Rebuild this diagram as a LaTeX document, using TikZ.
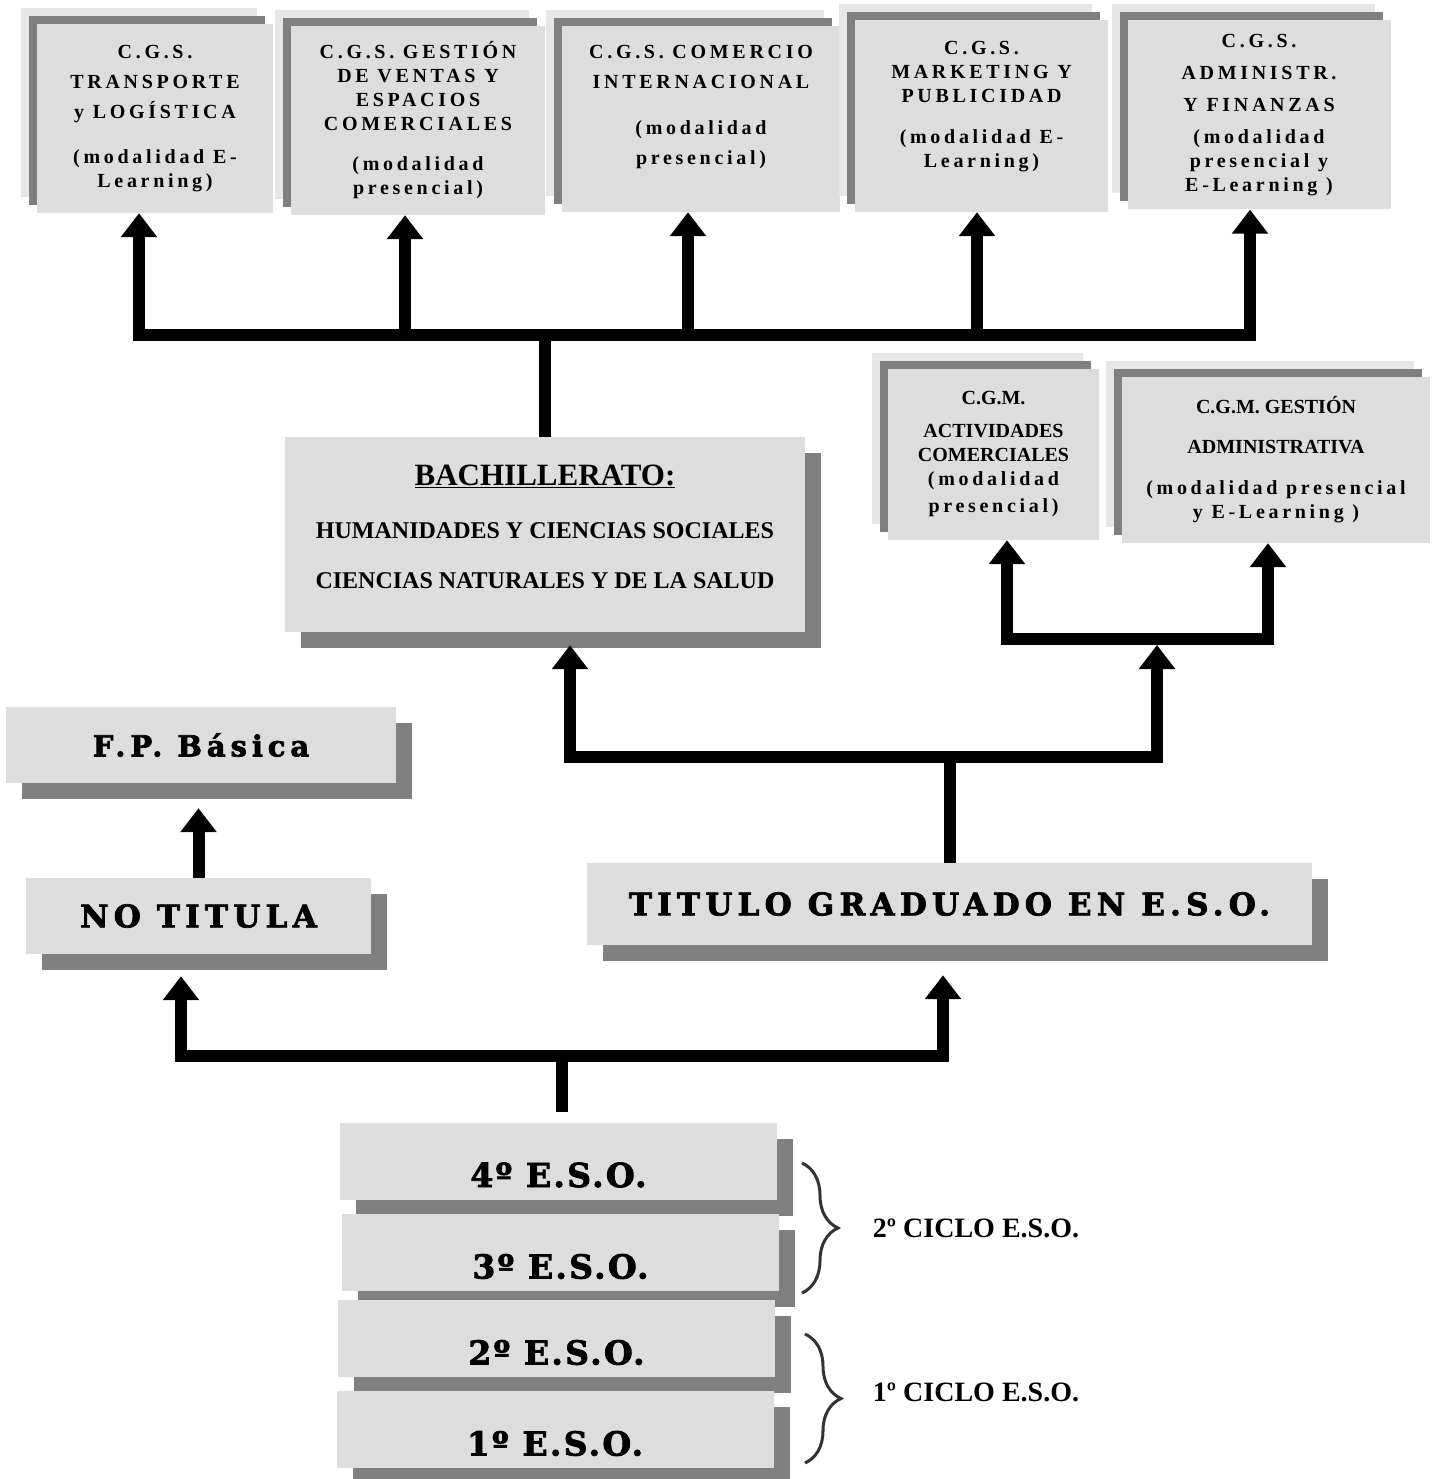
\documentclass[tikz,border=0pt]{standalone}
\usepackage{fontspec}
\setmainfont{Liberation Serif}
\newfontfamily\spaced[LetterSpace=18.5]{Liberation Serif}
\newfontfamily\slab[LetterSpace=17,FakeBold=2.5]{DejaVu Serif}
\newfontfamily\slabeso[LetterSpace=7,FakeBold=2.5]{DejaVu Serif}
\usetikzlibrary{arrows.meta,shadows,calc,decorations.pathreplacing}
\definecolor{boxgray}{HTML}{DDDDDD}
\definecolor{darkshade}{HTML}{808080}
\definecolor{paleshade}{HTML}{E6E6E6}

\begin{document}
\begin{tikzpicture}[x=1pt,y=-1pt,
    conn/.style={line width=12pt},
    arr/.style={line width=12pt,-{Triangle[width=35pt,length=24pt]}},
    stack/.style={fill=boxgray,inner sep=0pt,
        general shadow={fill=paleshade,shadow xshift=-16pt,shadow yshift=16pt},
        general shadow={fill=darkshade,shadow xshift=-8pt,shadow yshift=8pt}},
    dropbox/.style={fill=boxgray,inner sep=0pt,
        general shadow={fill=darkshade,shadow xshift=16pt,shadow yshift=-16pt}},
    cgs/.style={stack,align=center,font=\spaced\bfseries\fontsize{20}{24}\selectfont},
    cgm/.style={stack,align=center,font=\bfseries\fontsize{20}{24}\selectfont},
    big/.style={dropbox,font=\slab\bfseries\fontsize{31}{36}\selectfont},
    eso/.style={dropbox,minimum width=437,minimum height=77,text height=52pt,text depth=0pt,
        font=\slabeso\bfseries\fontsize{33}{38}\selectfont},
    brc/.style={decorate,decoration={brace,amplitude=36pt},line width=3pt,draw=black!80},
    ciclo/.style={font=\bfseries\fontsize{28}{32}\selectfont}]
    \useasboundingbox (0,0) rectangle (1438,1479);

    % ciclos superiores
    \node[cgs,minimum width=236,minimum height=189] (t1) at (155,118.5)
        {C.G.S.\\[6pt]TRANSPORTE\\[6pt]y LOGÍSTICA\\[21pt](modalidad E-\\Learning)};
    \node[cgs,minimum width=254,minimum height=189] (t2) at (418,120.5)
        {C.G.S. GESTIÓN\\DE VENTAS Y\\ESPACIOS\\COMERCIALES\\[16pt](modalidad\\presencial)};
    \node[cgs,minimum width=278,minimum height=186,text depth=28pt] (t3) at (701,119)
        {C.G.S. COMERCIO\\[6pt]INTERNACIONAL\\[22pt](modalidad\\[6pt]presencial)};
    \node[cgs,minimum width=253,minimum height=192,text depth=23pt] (t4) at (981.5,116)
        {C.G.S.\\MARKETING Y\\PUBLICIDAD\\[17pt](modalidad E-\\Learning)};
    \node[cgs,minimum width=263,minimum height=189] (t5) at (1259,115)
        {C.G.S.\\[8pt]ADMINISTR.\\[8pt]Y FINANZAS\\[8pt](modalidad\\presencial y\\E-Learning )};

    % ciclos medios
    \node[cgm,minimum width=211,minimum height=171] (c1) at (993.5,454.5)
        {C.G.M.\\[9pt]ACTIVIDADES\\COMERCIALES\\{\spaced\bfseries (modalidad}\\[3pt]{\spaced\bfseries presencial)}};
    \node[cgm,minimum width=308,minimum height=166] (c2) at (1276,460)
        {C.G.M. GESTIÓN\\[16pt]ADMINISTRATIVA\\[17pt]{\spaced\bfseries (modalidad presencial}\\{\spaced\bfseries y E-Learning )}};

    \node[dropbox,minimum width=520,minimum height=195,align=center,text depth=16pt,
        font=\bfseries\fontsize{24}{26}\selectfont] (bach) at (545,534.5)
        {{\fontsize{31}{31}\selectfont\underline{BACHILLERATO:}}\\[27pt]
         HUMANIDADES Y CIENCIAS SOCIALES\\[24pt]CIENCIAS NATURALES Y DE LA SALUD};

    \node[big,minimum width=390,minimum height=76,font=\slab\bfseries\fontsize{29}{34}\selectfont] (fp) at (201,745) {F.P. Básica};
    \node[big,minimum width=345,minimum height=76] (notit) at (198.5,916) {NO TITULA};
    \node[big,minimum width=725,minimum height=82] (titulo) at (949.5,904) {TITULO GRADUADO EN E.S.O.};

    \foreach \n/\x/\y in {4/558.5/1161,3/560.5/1252.5,2/556.5/1338.5,1/555/1429.5}
        \node[eso] (eso\n) at (\x,\y) {\n{}º E.S.O.};

    % arbol superior
    \coordinate (topbar) at (546,335);
    \draw[conn] (bach.north) -- (bach.north |- topbar);
    \foreach \i/\x in {1/139,2/405,3/688,4/977,5/1250} \coordinate (j\i) at (\x,335);
    \draw[conn,line cap=rect] (j1) -- (j5);
    \foreach \i in {1,...,5} \draw[arr] (j\i) -- (j\i |- t\i.south);

    % arbol medio
    \coordinate (m1) at (570,757);
    \coordinate (m2) at (1157,757);
    \coordinate (k1) at (1007,639);
    \coordinate (k2) at (1268,639);
    \draw[conn] (titulo.north) -- (titulo.north |- m1);
    \draw[conn,line cap=rect] (m1) -- (m2);
    \draw[arr] (m1) -- ($(m1 |- bach.south)+(0,13)$);
    \draw[arr] (m2) -- ($(m2 |- k1)+(0,6)$);
    \draw[conn,line cap=rect] (k1) -- (k2);
    \draw[arr] (k1) -- (k1 |- c1.south);
    \draw[arr] (k2) -- (k2 |- c2.south);

    % arbol inferior
    \coordinate (b1) at (181,1056);
    \coordinate (b2) at (943,1056);
    \draw[conn] ($(eso4.north)+(3,-10)$) -- ($(eso4.north |- b1)+(3,0)$);
    \draw[conn,line cap=rect] (b1) -- (b2);
    \draw[arr] (b1) -- ($(b1 |- notit.south)+(0,22)$);
    \draw[arr] (b2) -- ($(b2 |- titulo.south)+(0,30)$);
    \draw[arr] (notit.north) -- ($(notit.north |- fp.south)+(0,25)$);

    % llaves
    \draw[brc] (802,1163) -- (802,1293);
    \draw[brc] (805,1334) -- (805,1463);
    \node[ciclo] (ciclo2) at (976,1228) {2º CICLO E.S.O.};
    \node[ciclo] (ciclo1) at (976,1392) {1º CICLO E.S.O.};
\end{tikzpicture}
\end{document}
